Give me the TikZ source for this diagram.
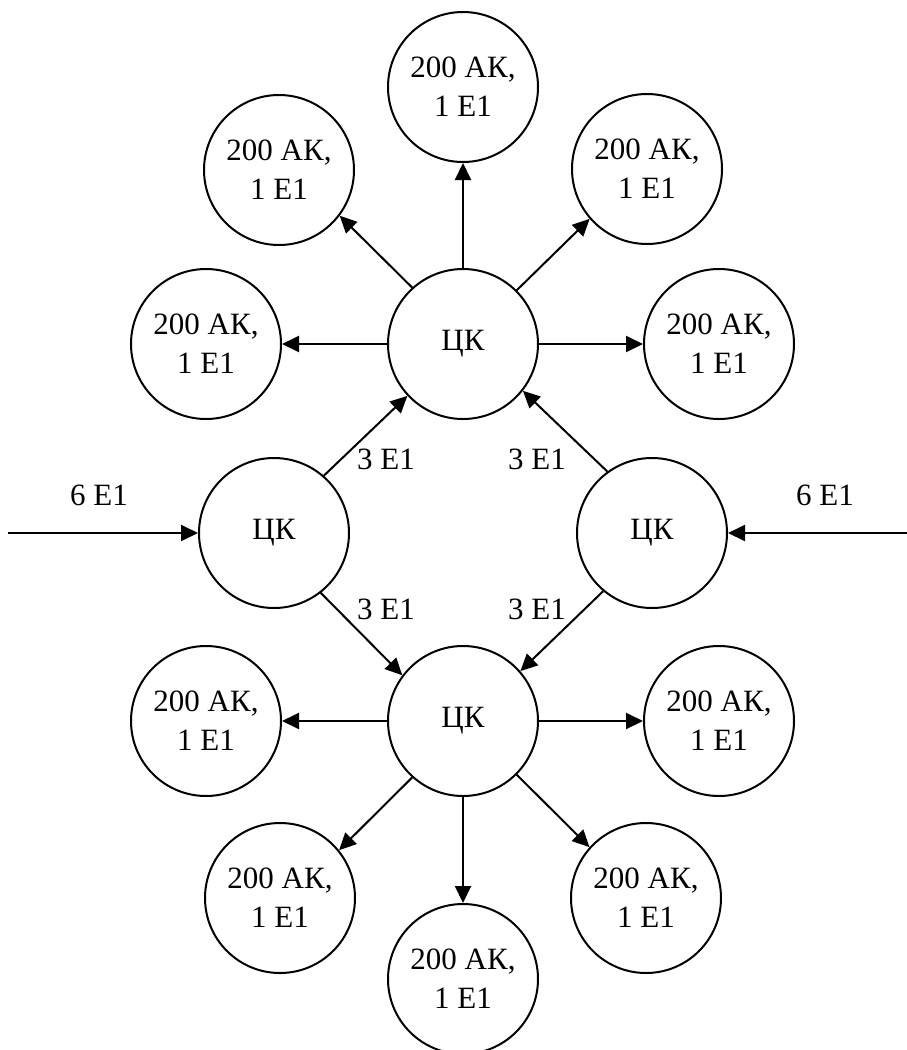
\documentclass[tikz,border=0pt]{standalone}
\usepackage{fontspec}
\setmainfont{Liberation Serif}
\usetikzlibrary{arrows.meta}
\begin{document}
\begin{tikzpicture}[x=1pt,y=-1pt,
  circ/.style={circle,draw,line width=2pt,minimum size=150pt,inner sep=0pt,align=center,font=\fontsize{31}{39}\selectfont},
  conn/.style={line width=2pt,-{Triangle[length=17pt,width=16pt]}},
  lbl/.style={font=\fontsize{31}{37}\selectfont,inner sep=0pt}]
\useasboundingbox (0,0) rectangle (907,1050);
% central switching nodes
\node[circ] (ct) at (463,344) {ЦК};
\node[circ] (cb) at (463,721) {ЦК};
\node[circ] (cl) at (274,533) {ЦК};
\node[circ] (cr) at (652,533) {ЦК};
% upper leaves
\node[circ] (t)  at (463,87)  {200 АК,\\1 E1};
\node[circ] (tl) at (279,170) {200 АК,\\1 E1};
\node[circ] (tr) at (647,169) {200 АК,\\1 E1};
\node[circ] (l)  at (206,344) {200 АК,\\1 E1};
\node[circ] (r)  at (719,344) {200 АК,\\1 E1};
% lower leaves
\node[circ] (bl) at (206,721) {200 АК,\\1 E1};
\node[circ] (br) at (719,721) {200 АК,\\1 E1};
\node[circ] (dl) at (280,898) {200 АК,\\1 E1};
\node[circ] (dr) at (646,898) {200 АК,\\1 E1};
\node[circ] (d)  at (463,979) {200 АК,\\1 E1};
% connectors from upper ЦК
\draw[conn] (ct) -- (t);
\draw[conn] (ct) -- (l);
\draw[conn] (ct) -- (r);
\draw[conn] (ct.132) -- (tl.-37);
\draw[conn] (ct.45) -- (tr.221);
% connectors from lower ЦК
\draw[conn] (cb) -- (d);
\draw[conn] (cb) -- (bl);
\draw[conn] (cb) -- (br);
\draw[conn] (cb.228) -- (dl.39);
\draw[conn] (cb.-45) -- (dr.138);
% between ЦК
\draw[conn] (cl.49) -- (ct.223);
\draw[conn] (cr.126) -- (ct.-38);
\draw[conn] (cl.-52) -- (cb.143);
\draw[conn] (cr.230) -- (cb.41);
\coordinate (inl) at (8,533);
\coordinate (inr) at (907,533);
\draw[conn] (inl) -- (cl);
\draw[conn] (inr) -- (cr);
% labels
\node[lbl] (l6a) at (99,495) {6 E1};
\node[lbl] (l6b) at (825,495) {6 E1};
\node[lbl] (l3a) at (386,459) {3 E1};
\node[lbl] (l3b) at (537,459) {3 E1};
\node[lbl] (l3c) at (386,609) {3 E1};
\node[lbl] (l3d) at (537,609) {3 E1};
\end{tikzpicture}
\end{document}
